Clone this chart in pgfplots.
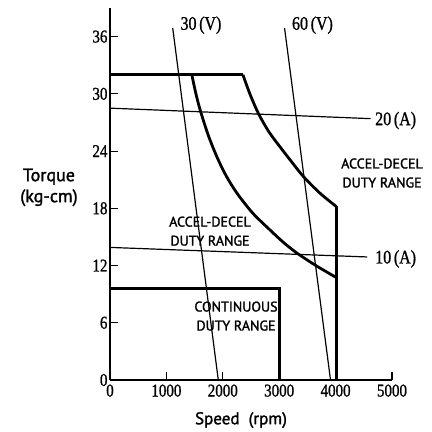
\documentclass[border=0pt]{standalone}
\usepackage{pgfplots}
\pgfplotsset{compat=1.18}
\usepackage{graphicx}
\usepackage{fontspec}
\newfontfamily\lblfont[FakeBold=1.6]{PT Sans}
\newfontfamily\numfont[FakeBold=1.2]{Liberation Serif}
\newcommand\tl[1]{\scalebox{1}[1.2]{#1}}
\begin{document}
\begin{tikzpicture}
\path[use as bounding box] (-110pt,-52pt) rectangle (322pt,380pt);
\begin{axis}[
  at={(0,0)}, anchor=south west,
  scale only axis, width=282pt, height=372pt,
  xmin=0, xmax=5000, ymin=0, ymax=39,
  axis x line=bottom, axis y line=left,
  axis line style={-, line width=1.1pt},
  tick align=inside, major tick length=8pt,
  tick style={line width=1.1pt, black},
  /pgf/number format/assume math mode=true,
  xtick={0,1000,2000,3000,4000,5000},
  xticklabels={\tl{0},\tl{1000},\tl{2000},\tl{3000},\tl{4000},\tl{5000}},
  ytick={0,6,12,18,24,30,36},
  yticklabels={\tl{0},\tl{6},\tl{12},\tl{18},\tl{24},\tl{30},\tl{36}},
  xticklabel style={font=\numfont\bfseries\fontsize{15}{15}\selectfont, yshift=-1pt},
  yticklabel style={font=\numfont\fontsize{15}{15}\selectfont, xshift=1pt},
  xticklabel style={font=\numfont\fontsize{15}{15}\selectfont},
  clip=false,
]
% 30 V and 60 V lines
\addplot[black, line width=1.2pt] coordinates {(1112,36.9) (1920,0)};
\addplot[black, line width=1.2pt] coordinates {(3095,36.9) (3910,0)};
% 20 A and 10 A lines
\addplot[black, line width=1.2pt] coordinates {(0,28.5) (4620,27.4)};
\addplot[black, line width=1.2pt] coordinates {(0,13.9) (4560,12.9)};
% outer boundary
\addplot[black, line width=2.8pt, smooth] coordinates {(2357,32.0) (2480,30.0) (2635,27.9) (2820,26.0) (3020,24.4) (3230,22.8) (3434,21.3) (3720,19.6) (4009,18.2)};
\addplot[black, line width=2.8pt] coordinates {(0,32.0) (2357,32.0)};
\addplot[black, line width=2.8pt] coordinates {(4009,18.2) (4009,0)};
% inner curve
\addplot[black, line width=2.8pt, smooth] coordinates {(1451,32.0) (1520,30.1) (1599,28.3) (1740,25.7) (1895,23.4) (2060,21.4) (2250,19.6) (2530,17.5) (2842,15.7) (3080,14.4) (3316,13.3) (3650,12.0) (3996,10.8)};
% continuous box
\addplot[black, line width=2.8pt] coordinates {(0,9.6) (3010,9.6) (3010,0)};
% labels
\node[font=\numfont\fontsize{16}{16}\selectfont] at (axis cs:1613,37.2) {\tl{30\,(V)}};
\node[font=\numfont\fontsize{16}{16}\selectfont] at (axis cs:3590,37.2) {\tl{60\,(V)}};
\node[font=\numfont\fontsize{16}{16}\selectfont, anchor=west, inner sep=0pt] at (axis cs:4699,27.2) {\tl{20\,(A)}};
\node[font=\numfont\fontsize{16}{16}\selectfont, anchor=west, inner sep=0pt] at (axis cs:4699,12.7) {\tl{10\,(A)}};
\node[font=\lblfont\fontsize{14}{19}\selectfont, align=center] at (axis cs:4823,21.7) {ACCEL-DECEL\\DUTY RANGE};
\node[font=\lblfont\fontsize{14}{19}\selectfont, align=center] at (axis cs:1773,15.6) {ACCEL-DECEL\\DUTY RANGE};
\node[font=\lblfont\fontsize{14}{19}\selectfont, align=center] at (axis cs:2234,6.7) {CONTINUOUS\\DUTY RANGE};
\node[font=\lblfont\fontsize{18}{21}\selectfont, align=center] at (axis cs:-1082,20.2) {Torque\\(kg-cm)};
\node[font=\lblfont\fontsize{17}{18}\selectfont] at (axis cs:2323,-4.2) {Speed\ \ (rpm)};
\end{axis}
\end{tikzpicture}
\end{document}
